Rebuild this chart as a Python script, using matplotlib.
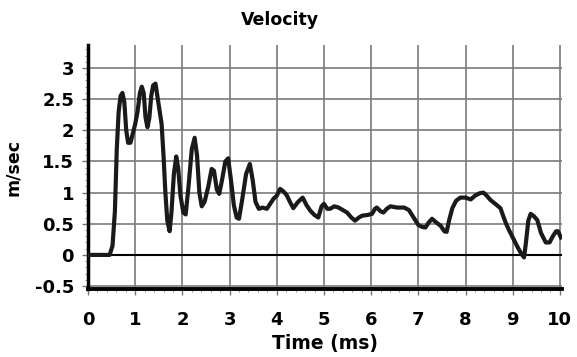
import numpy as np
import matplotlib.pyplot as plt
from matplotlib.ticker import MultipleLocator

t = [0, 0.46, 0.52, 0.57, 0.61, 0.65, 0.69, 0.73, 0.77, 0.81, 0.85, 0.90,
     0.95, 1.00, 1.05, 1.10, 1.14, 1.18, 1.22, 1.26, 1.30, 1.34, 1.38, 1.43,
     1.47, 1.52, 1.56, 1.60, 1.64, 1.68, 1.73, 1.77, 1.82, 1.87, 1.91, 1.96,
     2.02, 2.07, 2.13, 2.20, 2.26, 2.31, 2.36, 2.41, 2.47, 2.55, 2.62, 2.67,
     2.73, 2.78, 2.84, 2.91, 2.97, 3.03, 3.09, 3.15, 3.20, 3.27, 3.35, 3.43,
     3.49, 3.55, 3.62, 3.70, 3.79, 3.86, 3.93, 4.00, 4.07, 4.14, 4.21, 4.28,
     4.35, 4.45, 4.55, 4.63, 4.71, 4.80, 4.88, 4.95, 5.00, 5.07, 5.13, 5.22,
     5.31, 5.40, 5.49, 5.58, 5.66, 5.74, 5.81, 5.92, 6.02, 6.08, 6.12, 6.20,
     6.26, 6.33, 6.41, 6.55, 6.70, 6.80, 6.90, 7.00, 7.08, 7.15, 7.22, 7.29,
     7.38, 7.47, 7.55, 7.60, 7.65, 7.72, 7.80, 7.89, 8.00, 8.11, 8.20, 8.30,
     8.38, 8.45, 8.53, 8.63, 8.74, 8.80, 8.86, 8.92, 9.00, 9.10, 9.18, 9.24,
     9.28, 9.33, 9.38, 9.45, 9.52, 9.60, 9.70, 9.78, 9.85, 9.92, 9.96, 10.02]
vel = [0, 0, 0.15, 0.7, 1.7, 2.3, 2.55, 2.6, 2.45, 2.0, 1.8, 1.8,
       1.95, 2.1, 2.3, 2.6, 2.7, 2.6, 2.2, 2.05, 2.2, 2.55, 2.72, 2.75,
       2.55, 2.3, 2.1, 1.6, 1.0, 0.55, 0.38, 0.7, 1.3, 1.58, 1.4, 0.95,
       0.68, 0.65, 1.1, 1.7, 1.88, 1.6, 1.0, 0.78, 0.85, 1.1, 1.38, 1.35,
       1.05, 0.98, 1.2, 1.5, 1.55, 1.2, 0.8, 0.6, 0.58, 0.9, 1.3, 1.46,
       1.2, 0.85, 0.74, 0.76, 0.74, 0.82, 0.9, 0.95, 1.06, 1.02, 0.96, 0.85,
       0.75, 0.85, 0.92, 0.8, 0.71, 0.64, 0.6, 0.78, 0.82, 0.74, 0.74, 0.78,
       0.76, 0.72, 0.68, 0.6, 0.55, 0.6, 0.63, 0.64, 0.66, 0.74, 0.76, 0.7,
       0.68, 0.74, 0.78, 0.76, 0.76, 0.72, 0.6, 0.48, 0.45, 0.44, 0.52, 0.58,
       0.52, 0.47, 0.38, 0.37, 0.55, 0.75, 0.87, 0.92, 0.92, 0.89, 0.95, 0.99,
       1.0, 0.95, 0.88, 0.82, 0.75, 0.62, 0.5, 0.4, 0.28, 0.13, 0.02, -0.04,
       0.2, 0.55, 0.66, 0.62, 0.56, 0.35, 0.2, 0.2, 0.3, 0.38, 0.38, 0.28]

xticks = list(range(0, 11))
yticks = [-0.5, 0, 0.5, 1, 1.5, 2, 2.5, 3]
yticklabels = ['-0.5', '0', '0.5', '1', '1.5', '2', '2.5', '3']

plt.rcParams['font.family'] = 'DejaVu Sans'
fig = plt.figure(figsize=(5.77, 3.57), dpi=100)
ax = fig.add_axes([0.1525, 0.19, 0.822, 0.684])

ax.plot(t, vel, color='#1a1a1a', lw=3, solid_joinstyle='round', zorder=3)
ax.axhline(0, color='black', lw=1.5, zorder=2)

ax.set_xlim(0, 10.05)
ax.set_ylim(-0.55, 3.37)
ax.set_xticks(xticks)
ax.set_yticks(yticks)
ax.set_yticklabels(yticklabels)
ax.xaxis.set_minor_locator(MultipleLocator(0.2))
ax.yaxis.set_minor_locator(MultipleLocator(0.1))
ax.grid(True, which='major', color='#7a7a7a', lw=1.2)
ax.set_axisbelow(True)

ax.spines['top'].set_visible(False)
ax.spines['right'].set_visible(False)
ax.spines['left'].set_linewidth(2.5)
ax.spines['bottom'].set_linewidth(2.8)
ax.tick_params(axis='x', which='major', length=4, width=1, pad=12,
               labelsize=13, color='#777777')
ax.tick_params(axis='y', which='major', length=4, width=1, pad=6,
               labelsize=13, color='#777777')
ax.tick_params(which='minor', length=2.5, width=0.8, color='#999999')
for lab in ax.get_xticklabels() + ax.get_yticklabels():
    lab.set_fontweight('bold')

ax.set_xlabel('Time (ms)', fontsize=13.5, fontweight='bold', labelpad=3)
ax.set_ylabel('m/sec', fontsize=12.5, fontweight='bold')
ax.yaxis.set_label_coords(-0.139, 0.5)
fig.text(0.485, 0.944, 'Velocity', fontsize=12.5, fontweight='bold',
         ha='center', va='center')

fig.savefig('out.png', dpi=100)
